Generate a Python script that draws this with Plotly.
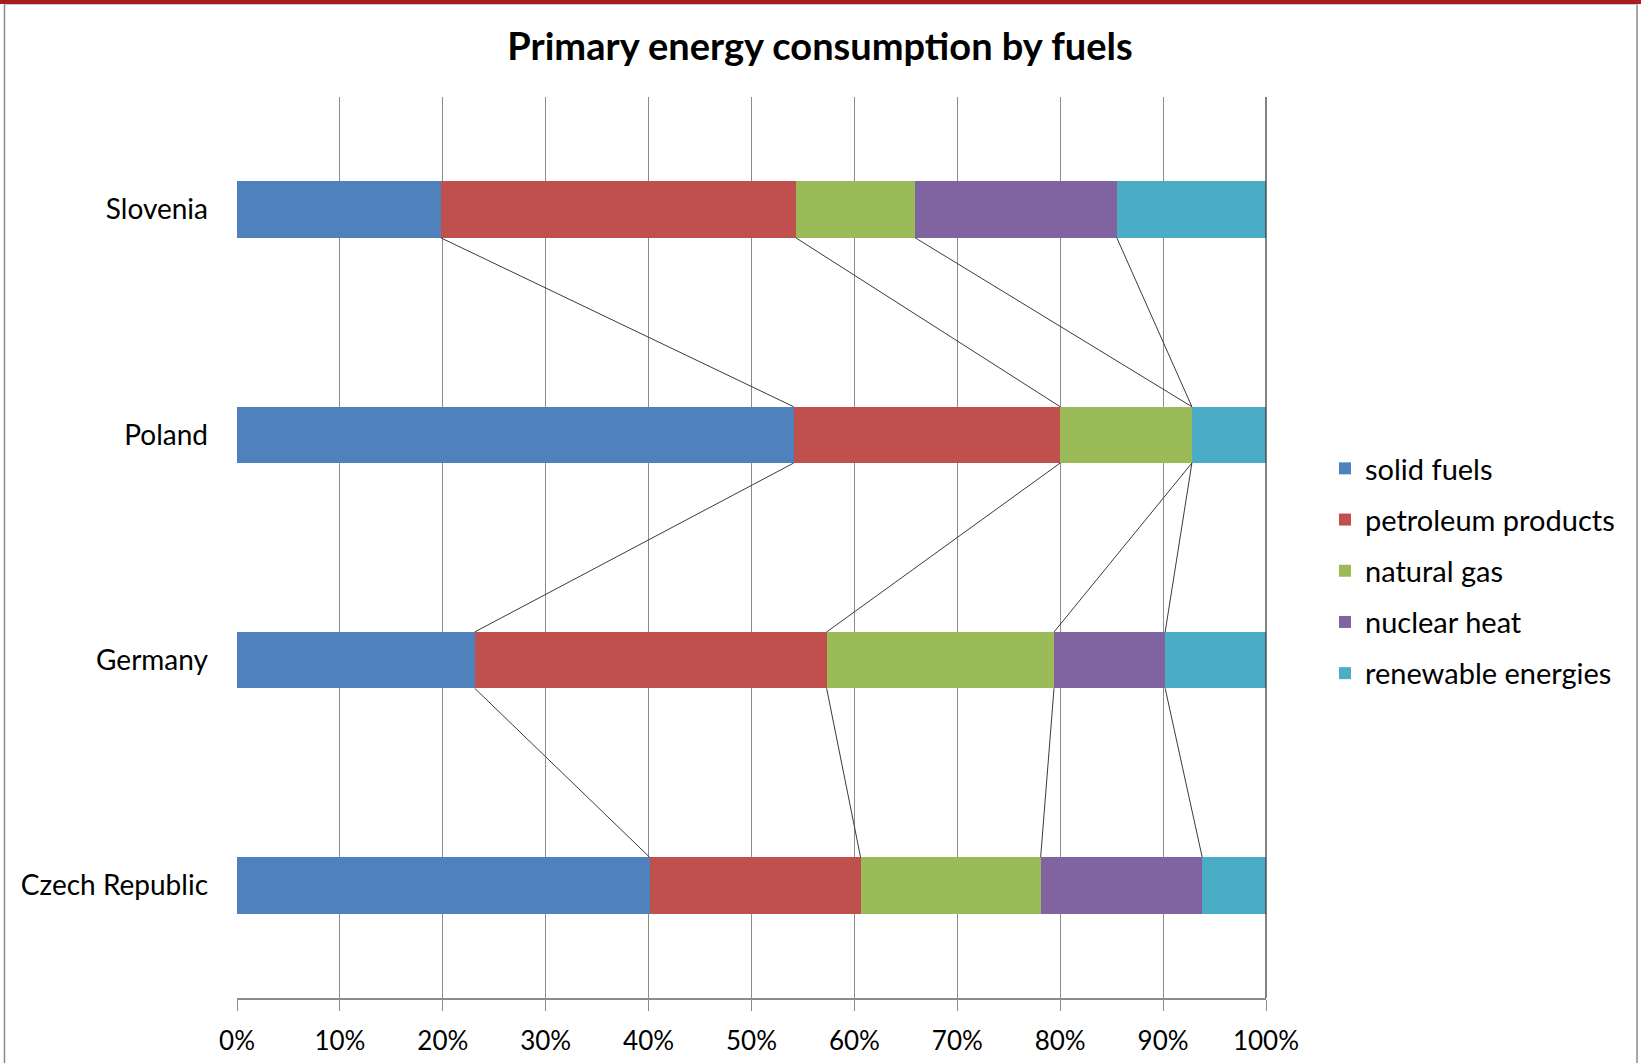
import plotly.graph_objects as go

# ---------------- data ----------------
countries = ["Czech Republic", "Germany", "Poland", "Slovenia"]  # bottom -> top
fuels = ["solid fuels", "petroleum products", "natural gas", "nuclear heat", "renewable energies"]
solid_fuels = [40.1, 23.1, 54.1, 19.8]
petroleum_products = [20.5, 34.2, 25.9, 34.5]
natural_gas = [17.5, 22.1, 12.8, 11.6]
nuclear_heat = [15.7, 10.8, 0.0, 19.6]
renewable_energies = [6.2, 9.8, 7.2, 14.5]
series = [solid_fuels, petroleum_products, natural_gas, nuclear_heat, renewable_energies]
colors = ["#4F81BD", "#C0504D", "#9BBB59", "#8064A2", "#4BACC6"]
x_ticks = [i / 10 for i in range(11)]
x_ticktext = [f"{i*10}%" for i in range(11)]

# ---------------- layout geometry (pixels) ----------------
W, H = 1641, 1063
ML, MR, MT, MB = 237, 375, 97, 65
PW, PH = W - ML - MR, H - MT - MB
BAR_W = 0.25


def px_x(p):
    return (p - ML) / PW


def px_y(p):
    return (H - MB - p) / PH


FONT = "Lato, 'Open Sans', sans-serif"

fig = go.Figure()
ypos = list(range(len(countries)))
for name, vals, col in zip(fuels, series, colors):
    fig.add_trace(go.Bar(
        x=[v / 100 for v in vals], y=ypos, orientation="h", name=name,
        marker=dict(color=col, line=dict(width=0)), width=BAR_W,
        legendgroup=name,
    ))

# series lines connecting cumulative boundaries between adjacent bars
cums = []
for c in range(len(countries)):
    s, row = 0, []
    for vals in series[:-1]:
        s += vals[c]
        row.append(s / 100)
    cums.append(row)
for c in range(1, len(countries)):
    for k in range(len(series) - 1):
        fig.add_trace(go.Scatter(
            x=[cums[c][k], cums[c - 1][k]],
            y=[ypos[c] - BAR_W / 2, ypos[c - 1] + BAR_W / 2],
            mode="lines", line=dict(color="#3A3A3A", width=1),
            showlegend=False, hoverinfo="skip",
        ))

shapes = [
    # frame: top red band and grey border
    dict(type="rect", xref="paper", yref="paper", x0=px_x(0), x1=px_x(W), y0=px_y(0), y1=px_y(4),
         fillcolor="#A91C1C", line=dict(width=0), layer="above"),
    dict(type="line", xref="paper", yref="paper", x0=px_x(4.5), x1=px_x(4.5), y0=px_y(4), y1=px_y(H),
         line=dict(color="#8A8A8A", width=1.5)),
    dict(type="line", xref="paper", yref="paper", x0=px_x(1637), x1=px_x(1637), y0=px_y(4), y1=px_y(H),
         line=dict(color="#8A8A8A", width=1.5)),
    dict(type="line", xref="paper", yref="paper", x0=px_x(4.5), x1=px_x(1637), y0=px_y(4.5), y1=px_y(4.5),
         line=dict(color="#C8C8C8", width=1)),
    # darker right edge of plot area
    dict(type="line", xref="paper", yref="paper", x0=1, x1=1, y0=0, y1=1,
         line=dict(color="#303030", width=1.2), layer="above"),
]

fig.update_layout(
    width=W, height=H,
    margin=dict(l=ML, r=MR, t=MT, b=MB, pad=0, autoexpand=False),
    paper_bgcolor="white", plot_bgcolor="white",
    barmode="stack", bargap=0,
    font=dict(family=FONT, size=26, color="#000000"),
    title=dict(text="<b>Primary energy consumption by fuels</b>",
               font=dict(family=FONT, size=38, color="#000000"),
               xref="paper", x=px_x(820), xanchor="center",
               yref="container", y=1 - 47 / H, yanchor="middle"),
    xaxis=dict(range=[0, 1], tickvals=x_ticks, ticktext=x_ticktext,
               showgrid=True, gridcolor="#8C8C8C", gridwidth=1,
               showline=True, linecolor="#8C8C8C", linewidth=1.5,
               ticks="outside", ticklen=11, tickcolor="#8C8C8C", tickwidth=1,
               ticklabelstandoff=8, zeroline=False, fixedrange=True, automargin=False,
               tickfont=dict(family=FONT, size=26, color="#000000")),
    yaxis=dict(range=[-0.5, len(countries) - 0.5], tickvals=ypos, ticktext=countries,
               showgrid=False, zeroline=False, showline=False, ticks="",
               ticklabelstandoff=28, fixedrange=True, automargin=False,
               tickfont=dict(family=FONT, size=28, color="#000000")),
    legend=dict(x=px_x(1325), xanchor="left", y=px_y(443), yanchor="top",
                font=dict(family=FONT, size=29, color="#000000"),
                tracegroupgap=10.5, traceorder="grouped", bgcolor="rgba(0,0,0,0)",
                itemwidth=30),
    shapes=shapes,
    showlegend=True,
)

fig.write_html("out.html", config={"displayModeBar": False},
               post_script="document.body.style.margin='0';document.body.style.padding='0';")
